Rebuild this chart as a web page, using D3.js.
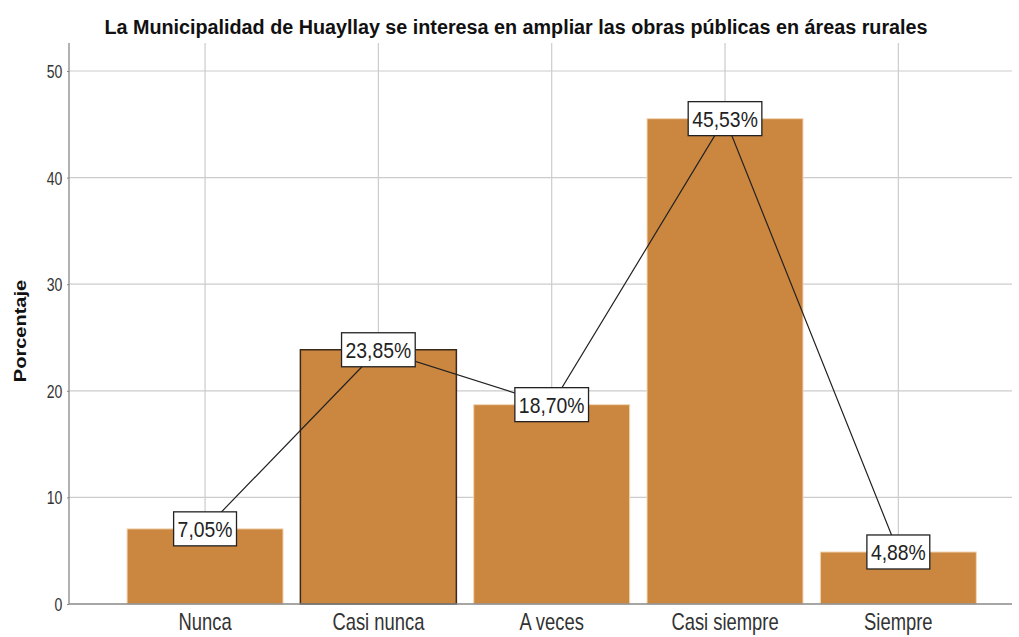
<!DOCTYPE html>
<html><head><meta charset="utf-8">
<script src="https://cdn.jsdelivr.net/npm/d3@7"></script>
<style>body{margin:0;background:#fff}</style>
</head><body>
<svg id="c" width="1019" height="637"></svg>
<script>
const categories = ["Nunca","Casi nunca","A veces","Casi siempre","Siempre"];
const values = [7.05,23.85,18.70,45.53,4.88];
const labels = ["7,05%","23,85%","18,70%","45,53%","4,88%"];
const yTicks = [0,10,20,30,40,50];
const title = "La Municipalidad de Huayllay se interesa en ampliar las obras públicas en áreas rurales";
const yTitle = "Porcentaje";

(function(){
const svg = d3.select("#c");
const mLeft = 69, mRight = 1012, mTop = 43, mBottom = 604;
const x = d3.scaleBand().domain(categories).range([118.4, 985]).paddingInner(0.1).paddingOuter(0.05);
const y = d3.scaleLinear().domain([0,50]).range([mBottom, 71]);
const font = "Arial,'Liberation Sans',sans-serif";
const cx = d => x(d) + x.bandwidth()/2;

svg.append("g").selectAll("line").data(yTicks.slice(1)).join("line")
  .attr("x1", mLeft).attr("x2", mRight).attr("y1", d=>y(d)).attr("y2", d=>y(d))
  .attr("stroke","#cccccc").attr("stroke-width",1.2);
svg.append("g").selectAll("line").data(categories).join("line")
  .attr("x1", cx).attr("x2", cx).attr("y1", mTop).attr("y2", mBottom)
  .attr("stroke","#cccccc").attr("stroke-width",1.2);

svg.append("g").selectAll("rect").data(categories).join("rect")
  .attr("x", d=>x(d)).attr("width", x.bandwidth())
  .attr("y", (d,i)=>y(values[i])).attr("height",(d,i)=>mBottom-y(values[i]))
  .attr("fill","#cb8640")
  .attr("stroke",(d,i)=> i===1 ? "#3a2a1a" : "#f3d9b8")
  .attr("stroke-width",(d,i)=> i===1 ? 1.5 : 1);

// y axis
const yAxis = d3.axisLeft(y).tickValues(yTicks).tickSize(2).tickPadding(0).tickFormat(d3.format("d"));
const ga = svg.append("g").attr("transform",`translate(${mLeft},0)`).call(yAxis);
ga.select(".domain").remove();
ga.selectAll(".tick line").attr("stroke","#888");
ga.selectAll(".tick text").attr("font-family",font).attr("font-size",18).attr("fill","#333")
  .attr("x",-8.5).attr("dy","0.36em").attr("transform","scale(0.78,1)");
svg.append("line").attr("x1",mLeft).attr("x2",mLeft).attr("y1",mTop).attr("y2",mBottom).attr("stroke","#888").attr("stroke-width",1.3);
svg.append("line").attr("x1",mLeft).attr("x2",mRight).attr("y1",mBottom).attr("y2",mBottom).attr("stroke","#888").attr("stroke-width",1.3);

// x axis
const xAxis = d3.axisBottom(x).tickSize(0).tickPadding(0);
const gx = svg.append("g").attr("transform",`translate(0,${mBottom})`).call(xAxis);
gx.select(".domain").remove();
gx.selectAll(".tick text").attr("font-family",font).attr("font-size",23).attr("fill","#333")
  .attr("y",26).attr("dy",0).attr("transform","scale(0.8,1)");

// connecting line
const line = d3.line().x(d=>cx(d.c)).y(d=>y(d.v));
const pts = categories.map((c,i)=>({c, v: values[i], l: labels[i]}));
svg.append("path").datum(pts).attr("d", line).attr("fill","none").attr("stroke","#222").attr("stroke-width",1.2);

// value labels
const lg = svg.append("g").selectAll("g").data(pts).join("g")
  .attr("transform", d=>`translate(${cx(d.c)},${y(d.v)})`);
const rects = lg.append("rect").attr("fill","#fff").attr("stroke","#222").attr("stroke-width",1.3);
const texts = lg.append("text").attr("text-anchor","middle").attr("dy","0.36em")
  .attr("font-family",font).attr("font-size",22).attr("fill","#222")
  .attr("transform","scale(0.88,1)")
  .text(d=>d.l);
texts.each(function(d,i){
  const w = this.getComputedTextLength()*0.88;
  d3.select(rects.nodes()[i]).attr("x",-w/2-4).attr("width",w+8).attr("y",-17).attr("height",34);
});

// titles
svg.append("text").attr("x",516).attr("y",34).attr("text-anchor","middle")
  .attr("font-family",font).attr("font-weight","bold").attr("font-size",20).attr("fill","#111")
  .attr("textLength",823).attr("lengthAdjust","spacingAndGlyphs").text(title);
svg.append("text").attr("transform","translate(26,331) rotate(-90) scale(1,0.8)").attr("text-anchor","middle")
  .attr("font-family",font).attr("font-weight","bold").attr("font-size",20).attr("fill","#111").text(yTitle);
})();
</script>
</body></html>
